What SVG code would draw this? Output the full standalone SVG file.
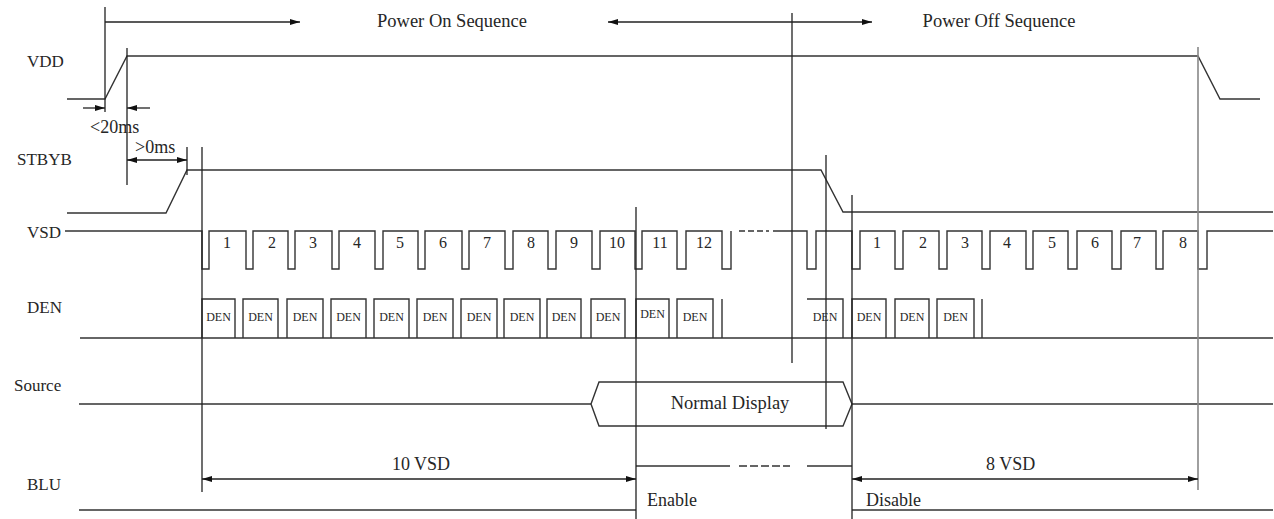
<svg xmlns="http://www.w3.org/2000/svg" width="1274" height="519" viewBox="0 0 1274 519">
<defs>
<marker id="ah" viewBox="0 0 10 6" refX="10" refY="3" markerWidth="11" markerHeight="6" markerUnits="userSpaceOnUse" orient="auto-start-reverse"><path d="M0,0 L10,3 L0,6 Z" fill="#111"/></marker>
</defs>
<style>
.w{fill:none;stroke:#333;stroke-width:1.4}
.g{fill:none;stroke:#888;stroke-width:1.6}
.a{fill:none;stroke:#222;stroke-width:1.3}
.dash{stroke-dasharray:8 3}
text{font-family:"Liberation Serif","Times New Roman",serif;fill:#262626}
.lb{font-size:17px}
.t{font-size:18.5px}
.m{font-size:18px}
.n{font-size:16px;text-anchor:middle}
.d{font-size:12px;text-anchor:middle}
.c{text-anchor:middle}
</style>
<rect width="1274" height="519" fill="#fff"/>

<g id="labels">
<text class="lb" x="27" y="67">VDD</text>
<text class="lb" x="17" y="165">STBYB</text>
<text class="lb" x="27" y="238">VSD</text>
<text class="lb" x="27" y="313">DEN</text>
<text class="lb" x="14" y="391">Source</text>
<text class="lb" x="27" y="490">BLU</text>
</g>

<g id="vdd">
<path class="w" d="M67,99 H105 L127,56 H1198 L1220,99 H1260"/>
</g>

<g id="stbyb">
<path class="w" d="M67,213 H166 L187,170 H821 L843,212 H1273"/>
</g>

<g id="vsd">
<path class="w" d="M65,231 H202 V269 H209 V231 H246 V269 H253 V231 H288 V269 H295 V231 H332 V269 H339 V231 H375 V269 H383 V231 H418 V269 H425 V231 H462 V269 H469 V231 H505 V269 H513 V231 H548 V269 H556 V231 H592 V269 H600 V231 H635 V269 H642 V231 H677 V269 H686 V231 H722 V269 H731 V231"/>
<path class="w" d="M739,231 H745 M748,231 H754 M757,231 H763 M766,231 H769"/>
<path class="w" d="M773,231 H807 V269 H816 V231 H852 V269 H860 V231 H895 V269 H903 V231 H939 V269 H947 V231 H982 V269 H990 V231 H1026 V269 H1033 V231 H1068 V269 H1077 V231 H1112 V269 H1121 V231 H1156 V269 H1163 V231 H1198 V269 H1207 V231 H1273"/>
<text class="n" x="227" y="248">1</text>
<text class="n" x="272" y="248">2</text>
<text class="n" x="313" y="248">3</text>
<text class="n" x="357" y="248">4</text>
<text class="n" x="400" y="248">5</text>
<text class="n" x="443" y="248">6</text>
<text class="n" x="487" y="248">7</text>
<text class="n" x="531" y="248">8</text>
<text class="n" x="574" y="248">9</text>
<text class="n" x="617" y="248">10</text>
<text class="n" x="660" y="248">11</text>
<text class="n" x="704" y="248">12</text>
<text class="n" x="877" y="248">1</text>
<text class="n" x="923" y="248">2</text>
<text class="n" x="965" y="248">3</text>
<text class="n" x="1007" y="248">4</text>
<text class="n" x="1052" y="248">5</text>
<text class="n" x="1095" y="248">6</text>
<text class="n" x="1137" y="248">7</text>
<text class="n" x="1183" y="248">8</text>
</g>

<g id="den">
<path class="w" d="M80,338 H1273"/>
<path class="w" d="M202,338 V299 H235 V338 M243,338 V299 H278 V338 M287,338 V299 H323 V338 M331,338 V299 H366 V338 M374,338 V299 H409 V338 M417,338 V299 H453 V338 M461,338 V299 H497 V338 M504,338 V299 H540 V338 M547,338 V299 H581 V338 M591,338 V299 H625 V338 M636,338 V299 H669 V338 M677,338 V299 H713 V338 M722,338 V299"/>
<path class="w" d="M807,299 H843 V338 M852,338 V299 H886 V338 M895,338 V299 H929 V338 M937,338 V299 H974 V338 M982,338 V299"/>
<text class="d" x="218.5" y="321">DEN</text>
<text class="d" x="260.5" y="321">DEN</text>
<text class="d" x="305" y="321">DEN</text>
<text class="d" x="348.5" y="321">DEN</text>
<text class="d" x="391.5" y="321">DEN</text>
<text class="d" x="435" y="321">DEN</text>
<text class="d" x="479" y="321">DEN</text>
<text class="d" x="522" y="321">DEN</text>
<text class="d" x="564" y="321">DEN</text>
<text class="d" x="608" y="321">DEN</text>
<text class="d" x="652.5" y="318">DEN</text>
<text class="d" x="695" y="321">DEN</text>
<text class="d" x="825" y="321">DEN</text>
<text class="d" x="869" y="321">DEN</text>
<text class="d" x="912" y="321">DEN</text>
<text class="d" x="955.5" y="321">DEN</text>
</g>

<g id="source">
<path class="w" d="M79,404 H591 M852,404 H1273"/>
<path class="w" d="M591,404 L599,382 H843 L852,404 L843,426 H599 Z"/>
<text class="t c" x="730" y="409">Normal Display</text>
</g>

<g id="blu">
<path class="w" d="M79,510 H636 M636,466 H730 M807,466 H852 M852,510 H1273"/>
<path class="w dash" d="M739,466 H790"/>
<text class="m" x="647" y="506">Enable</text>
<text class="m" x="866" y="506">Disable</text>
</g>

<g id="connectors">
<path class="a" d="M105,7 V112 M127,48 V185 M187,147 V175 M202,147 V492 M636,207 V519 M792,13 V363 M826,155 V429 M852,195 V519"/>
<path class="g" d="M1198,47 V490"/>
<path class="a" d="M105,22 H300" marker-end="url(#ah)"/>
<path class="a" d="M608,22 H872" marker-start="url(#ah)" marker-end="url(#ah)"/>
<path class="a" d="M83,108 H105" marker-end="url(#ah)"/>
<path class="a" d="M150,108 H127" marker-end="url(#ah)"/>
<path class="a" d="M127,160 H187" marker-start="url(#ah)" marker-end="url(#ah)"/>
<path class="a" d="M202,479 H636" marker-start="url(#ah)" marker-end="url(#ah)"/>
<path class="a" d="M852,479 H1198" marker-start="url(#ah)" marker-end="url(#ah)"/>
<text class="t c" x="452" y="27">Power On Sequence</text>
<text class="t c" x="999" y="27">Power Off Sequence</text>
<text class="m" x="90" y="133">&lt;20ms</text>
<text class="m" x="135" y="153">&gt;0ms</text>
<text class="m c" x="421" y="470">10 VSD</text>
<text class="m" x="986" y="470">8 VSD</text>
</g>
</svg>
